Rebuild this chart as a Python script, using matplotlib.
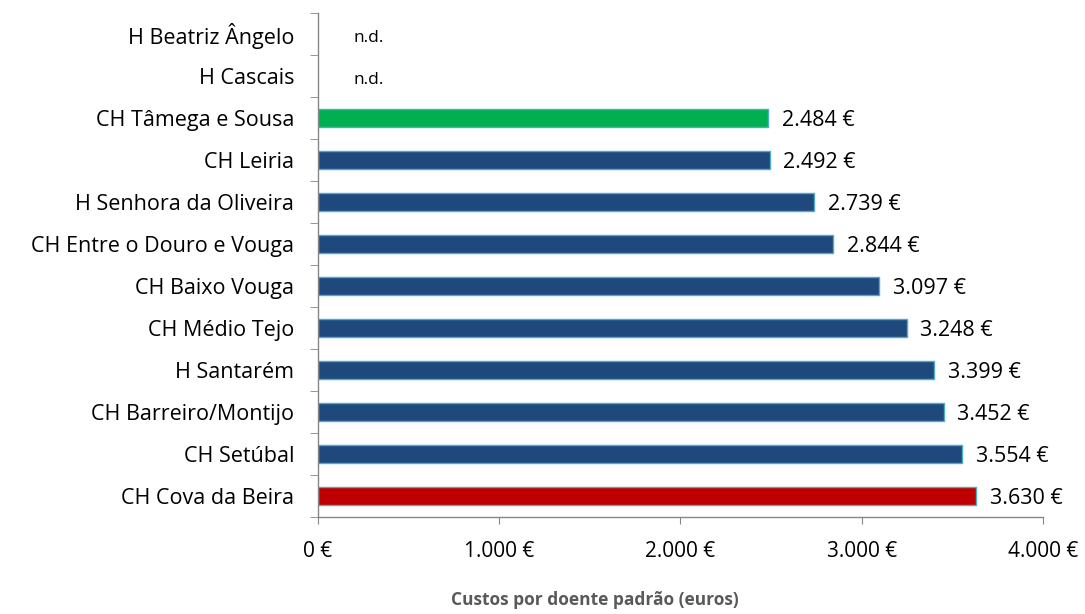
import numpy as np
import matplotlib.pyplot as plt
from matplotlib.ticker import FuncFormatter

hospitals = ["H Beatriz Ângelo", "H Cascais", "CH Tâmega e Sousa", "CH Leiria",
             "H Senhora da Oliveira", "CH Entre o Douro e Vouga", "CH Baixo Vouga",
             "CH Médio Tejo", "H Santarém", "CH Barreiro/Montijo", "CH Setúbal",
             "CH Cova da Beira"]
costs = [None, None, 2484, 2492, 2739, 2844, 3097, 3248, 3399, 3452, 3554, 3630]
bar_colors = [None, None, "#00B050", "#1F497D", "#1F497D", "#1F497D", "#1F497D",
              "#1F497D", "#1F497D", "#1F497D", "#1F497D", "#C00000"]
x_ticks = [0, 1000, 2000, 3000, 4000]


def euro(v, pos=None):
    return f"{v:,.0f}".replace(",", ".") + " €"


plt.rcParams['font.family'] = ['Open Sans', 'DejaVu Sans']

fig = plt.figure(figsize=(10.85, 6.14), dpi=100)
ax = fig.add_axes([0.293, 0.158, 0.6683, 0.821])

n = len(hospitals)
ypos = np.arange(n)[::-1]
for y, v, c in zip(ypos, costs, bar_colors):
    if v is None:
        ax.text(195, y - 0.1, "n.d.", va="center", ha="left", fontsize=12.5)
        continue
    ax.barh(y, v, height=0.44, color=c, edgecolor="#4BACC6", linewidth=1)
    ax.text(v + 75, y - 0.05, euro(v), va="center", ha="left", fontsize=15.5)

ax.set_xlim(0, 4000)
ax.set_ylim(-0.5, n - 0.5)
ax.set_xticks(x_ticks)
ax.xaxis.set_major_formatter(FuncFormatter(euro))
ax.set_yticks(ypos)
ax.set_yticklabels(hospitals)
ax.set_yticks(np.arange(n + 1) - 0.5, minor=True)

for s in ["top", "right"]:
    ax.spines[s].set_visible(False)
for s in ["left", "bottom"]:
    ax.spines[s].set_color("#868686")
    ax.spines[s].set_linewidth(1)

ax.tick_params(axis="y", which="major", length=0, pad=17, labelsize=15.5)
ax.tick_params(axis="y", which="minor", length=6, color="#868686", direction="out")
ax.tick_params(axis="x", length=5, color="#868686", pad=12, labelsize=15)

fig.text(0.548, 0.022, "Custos por doente padrão (euros)", fontsize=12.5,
         fontweight="bold", color="#595959", ha="center", va="center")

fig.savefig("out.png", dpi=100)
